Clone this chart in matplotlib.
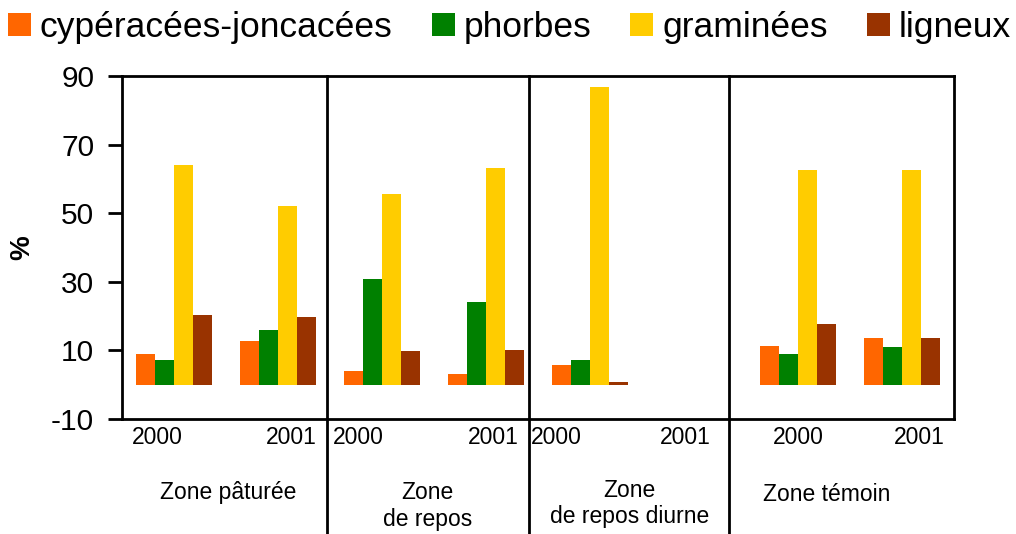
import matplotlib
matplotlib.use("Agg")
import matplotlib.pyplot as plt
import matplotlib.transforms as mtransforms
from matplotlib.patches import Patch
import numpy as np

plt.rcParams["font.family"] = ["Liberation Sans", "DejaVu Sans"]
plt.rcParams["axes.unicode_minus"] = False

# ── données ──────────────────────────────
years = ["2000", "2001", "2000", "2001", "2000", "2001", "2000", "2001"]
zones = ["Zone pâturée", "Zone\nde repos", "Zone\nde repos diurne", "Zone témoin"]
series = ["cypéracées-joncacées", "phorbes", "graminées", "ligneux"]

cyperacees = [8.9, 12.7, 4.0, 3.1, 5.7, 0, 11.3, 13.6]
phorbes = [7.2, 15.9, 30.8, 24.1, 7.2, 0, 8.9, 11.0]
graminees = [64.0, 52.1, 55.7, 63.2, 86.8, 0, 62.6, 62.6]
ligneux = [20.3, 19.7, 9.8, 10.1, 0.8, 0, 17.7, 13.6]

colors = ["#FF6600", "#008000", "#FFCC00", "#993300"]

# ── mise en page ─────────────────────────
fig = plt.figure(figsize=(10.16, 5.34), dpi=100)
ax = fig.add_axes([122 / 1016, 115 / 534, 832 / 1016, 343 / 534])

x = np.arange(len(years))
w = 0.183
for i, (vals, c) in enumerate(zip([cyperacees, phorbes, graminees, ligneux], colors)):
    ax.bar(x + (i - 1.5) * w, vals, width=w, color=c, linewidth=0)

ax.set_xlim(-0.5, 7.5)
ax.set_ylim(-10, 90)
ax.set_yticks([-10, 10, 30, 50, 70, 90])
ax.tick_params(axis="y", labelsize=21.5, length=10, width=2, pad=10)
ax.set_xticks([])
for s in ax.spines.values():
    s.set_linewidth(2)

ax.set_ylabel("%", fontsize=20, fontweight="bold")
ax.yaxis.set_label_coords(-0.104, 0.5)

# années sous l'axe
trans = mtransforms.blended_transform_factory(ax.transData, ax.transAxes)
year_offsets = [-0.16, 0.125, -0.23, 0.07, -0.32, -0.08, 0.0, 0.17]
for xi, lab, off in zip(x, years, year_offsets):
    ax.text(xi + off, -0.055, lab, transform=trans, ha="center", va="center", fontsize=16.5)

# noms des zones
zone_x = [0.52, 2.44, 4.38, 6.28]
zone_y = [-0.213, -0.254, -0.246, -0.219]
for zx, zy, lab in zip(zone_x, zone_y, zones):
    ax.text(zx, zy, lab, transform=trans, ha="center", va="center",
            fontsize=16.5, multialignment="center", linespacing=1.2)

# séparateurs de zones
for sx in [1.47, 3.41, 5.34]:
    ax.plot([sx, sx], [1, -0.34], transform=trans, color="black", lw=2, clip_on=False)

# légende
handles = [Patch(facecolor=c, edgecolor="none") for c in colors]
fig.legend(handles, series, loc="upper left", bbox_to_anchor=(8 / 1016, 1 - 11 / 534),
           ncol=4, frameon=False, fontsize=25.5, handlelength=0.65, handleheight=0.65,
           handletextpad=0.25, columnspacing=1.1, borderpad=0, borderaxespad=0)

plt.savefig("out.png", dpi=100)
plt.close()
